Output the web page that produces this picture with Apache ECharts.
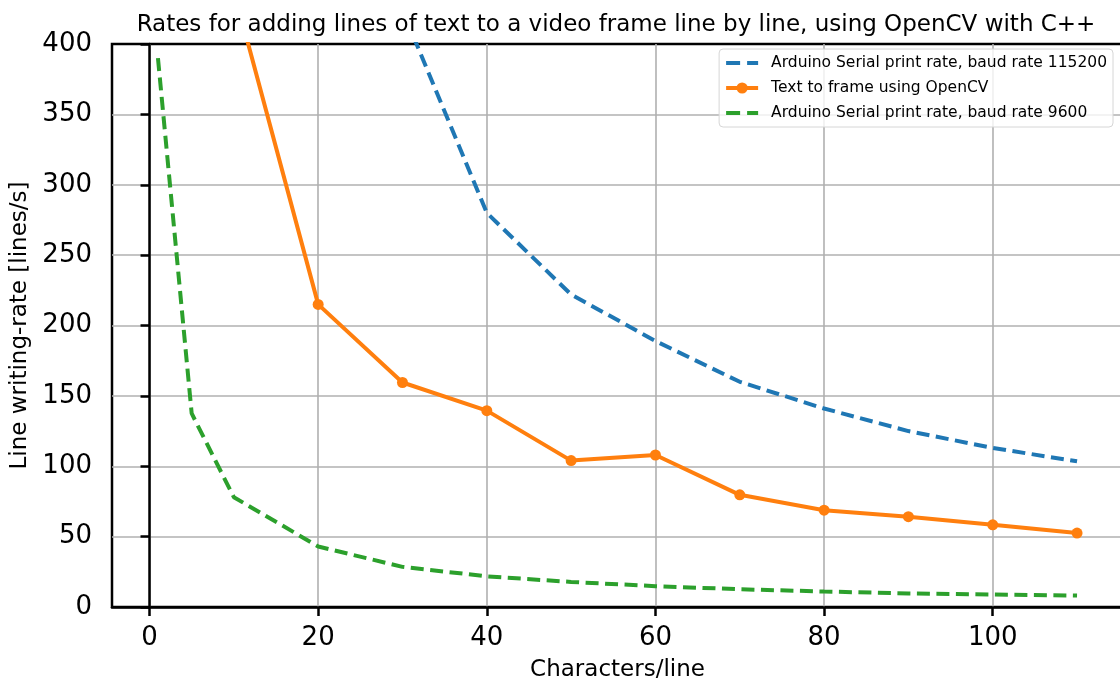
<!DOCTYPE html>
<html>
<head>
<meta charset="utf-8">
<script src="https://cdn.jsdelivr.net/npm/echarts@6/dist/echarts.min.js"></script>
<style>
  html, body { margin: 0; padding: 0; background: #fff; }
  #chart { width: 1120px; height: 684px; }
</style>
</head>
<body>
<div id="chart"></div>
<script>
// values
const xTicks = [0, 20, 40, 60, 80, 100]
const yTicks = [0, 50, 100, 150, 200, 250, 300, 350, 400]

const x115200 = [1, 5, 10, 20, 30, 40, 50, 60, 70, 80, 90, 100, 110]
const y115200 = [5000, 1900, 1000, 560, 424, 280, 222, 189, 160, 141, 125, 113, 103.5]

const xOpenCV = [10, 20, 30, 40, 50, 60, 70, 80, 90, 100, 110]
const yOpenCV = [438, 215, 159.5, 139.5, 104, 108, 79.7, 68.8, 64.2, 58.4, 52.5]

const x9600 = [1, 5, 10, 20, 30, 40, 50, 60, 70, 80, 90, 100, 110]
const y9600 = [390, 137.5, 78, 43, 28.5, 21.8, 17.8, 14.8, 12.6, 11, 9.6, 8.9, 8.1]

const FONT = 'DejaVu Sans'
const DASH_ICON = 'path://M0,0H14V4H0Z M21,0H32V4H21Z'

function pairs(xs, ys) {
  return xs.map((x, i) => [x, ys[i]])
}

const chart = echarts.init(document.getElementById('chart'))

chart.setOption({
  animation: false,
  backgroundColor: '#fff',
  textStyle: { fontFamily: FONT, color: '#000' },
  title: {
    text: 'Rates for adding lines of text to a video frame line by line, using OpenCV with C++',
    left: 611,
    textAlign: 'center',
    top: 9,
    textStyle: { fontFamily: FONT, fontSize: 23, fontWeight: 'normal', color: '#000' }
  },
  legend: {
    orient: 'vertical',
    right: 7,
    top: 49,
    padding: [6, 6, 6, 5],
    itemWidth: 32,
    itemHeight: 14,
    itemGap: 9,
    backgroundColor: 'rgba(255,255,255,0.8)',
    borderColor: '#d6d6d6',
    borderWidth: 1,
    borderRadius: 4,
    textStyle: { fontFamily: FONT, fontSize: 15.5, color: '#000', padding: [0, 0, 0, 8] },
    data: [
      { name: 'Arduino Serial print rate, baud rate 115200', icon: DASH_ICON },
      { name: 'Text to frame using OpenCV', lineStyle: { width: 4 } },
      { name: 'Arduino Serial print rate, baud rate 9600', icon: DASH_ICON }
    ]
  },
  grid: {
    left: 112,
    right: -3,
    top: 44,
    bottom: 77,
    outerBoundsMode: 'none',
    show: true,
    borderColor: '#000',
    borderWidth: 2.5
  },
  xAxis: {
    type: 'value',
    min: -4.45,
    max: 115.45,
    name: 'Characters/line',
    nameLocation: 'middle',
    nameGap: 52,
    nameTextStyle: { fontFamily: FONT, fontSize: 23, color: '#000' },
    axisLine: { show: true, lineStyle: { color: '#000', width: 2.5 } },
    axisTick: { show: true, inside: false, length: 9, customValues: xTicks, lineStyle: { color: '#000', width: 2.5 } },
    axisLabel: { margin: 18, fontSize: 26, color: '#000', fontFamily: FONT, customValues: xTicks },
    splitLine: { show: true, lineStyle: { color: '#b0b0b0', width: 1.6 } }
  },
  yAxis: {
    type: 'value',
    min: 0,
    max: 400,
    interval: 50,
    name: 'Line writing-rate [lines/s]',
    nameLocation: 'middle',
    nameGap: 72,
    nameTextStyle: { fontFamily: FONT, fontSize: 23, color: '#000' },
    axisLine: { show: true, lineStyle: { color: '#000', width: 2.5 } },
    axisTick: { show: true, inside: false, length: 9, lineStyle: { color: '#000', width: 2.5 } },
    axisLabel: { margin: 20, fontSize: 26, color: '#000', fontFamily: FONT },
    splitLine: { show: true, showMinLine: false, showMaxLine: false, lineStyle: { color: '#b0b0b0', width: 1.6 } }
  },
  series: [
    {
      name: 'Arduino Serial print rate, baud rate 115200',
      type: 'line',
      data: pairs(x115200, y115200),
      symbol: 'none',
      clip: true,
      color: '#1f77b4',
      lineStyle: { color: '#1f77b4', width: 4, type: [13, 6.5] }
    },
    {
      name: 'Text to frame using OpenCV',
      type: 'line',
      data: pairs(xOpenCV, yOpenCV),
      symbol: 'circle',
      symbolSize: 11,
      clip: true,
      color: '#ff7f0e',
      itemStyle: { color: '#ff7f0e' },
      lineStyle: { color: '#ff7f0e', width: 4 }
    },
    {
      name: 'Arduino Serial print rate, baud rate 9600',
      type: 'line',
      data: pairs(x9600, y9600),
      symbol: 'none',
      clip: true,
      color: '#2ca02c',
      lineStyle: { color: '#2ca02c', width: 4, type: [13, 6.5] }
    }
  ]
})
</script>
</body>
</html>
